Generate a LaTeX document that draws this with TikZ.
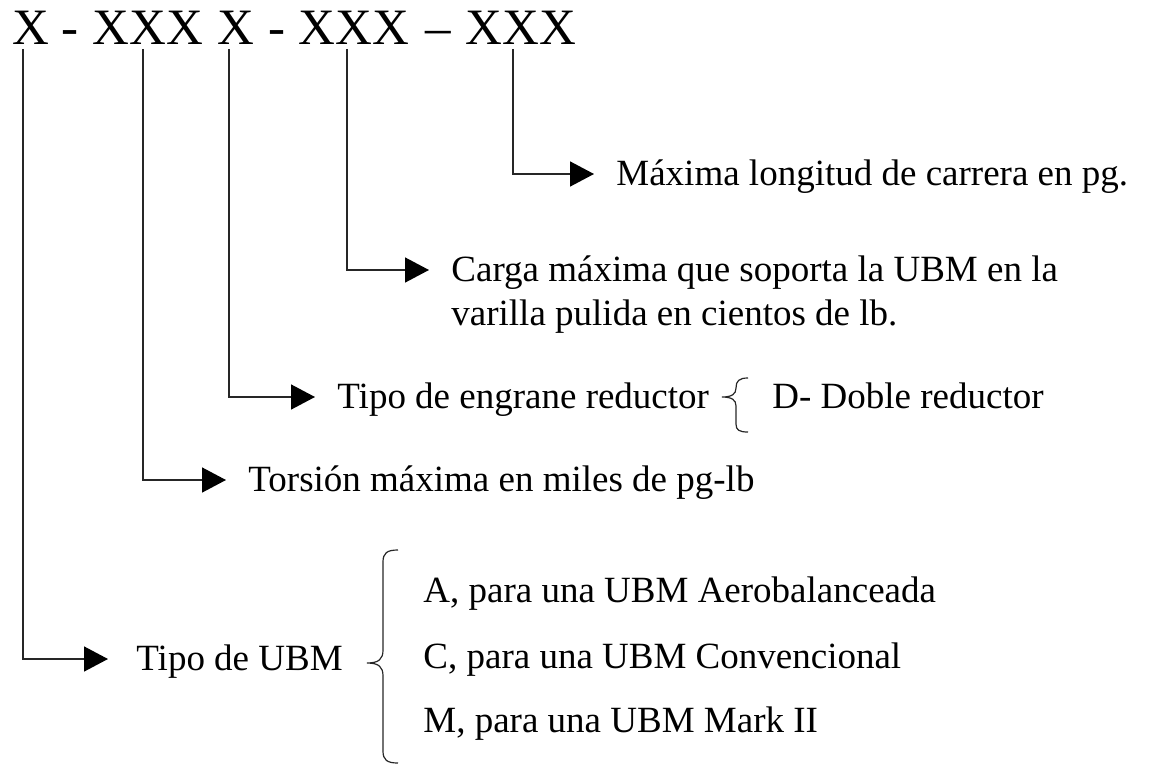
\documentclass[tikz,border=0pt]{standalone}
\usepackage{fontspec}
\setmainfont{Liberation Serif}
\usetikzlibrary{arrows.meta}

\begin{document}
\begin{tikzpicture}[
	x=0.5pt, y=-0.5pt,
	code/.style={
		anchor=base west,
		inner sep=0pt,
		font=\fontsize{25.5}{30}\selectfont
		},
	desc/.style={
		anchor=base west,
		inner xsep=11pt,
		inner ysep=0pt,
		font=\fontsize{18.5}{22.5}\selectfont
		},
	item/.style={
		anchor=base west,
		inner sep=0pt,
		font=\fontsize{18.5}{22.5}\selectfont
		},
	link/.style={
		draw=black!85,
		line width=0.75pt,
		-{Triangle[length=12pt,width=12.5pt,color=black]}
		},
	brace/.style={
		draw=black!85,
		line width=0.6pt
		}
]
\useasboundingbox (0,0) rectangle (1166,765);

% Code
\node [code] (codeA) at (12,45) {X};
\node [code] (dashA) at (61,45) {-};
\node [code] (codeB) at (92,45) {XXX};
\node [code] (codeC) at (217,45) {X};
\node [code] (dashB) at (268,45) {-};
\node [code] (codeD) at (298,45) {XXX};
\node [code] (dashC) at (425,45) {--};
\node [code] (codeE) at (465,45) {XXX};

% Stems under the code
\coordinate (stemA) at (23,49);
\coordinate (stemB) at (143,49);
\coordinate (stemC) at (229,49);
\coordinate (stemD) at (347,49);
\coordinate (stemE) at (513,49);

% Descriptions
\node [desc] (carrera) at (594,185) {Máxima longitud de carrera en pg.};
\node [desc] (carga) at (429,281) {Carga máxima que soporta la UBM en la};
\node [desc] (varilla) at (429,325) {varilla pulida en cientos de lb.};
\node [desc] (engrane) at (315,408) {Tipo de engrane reductor};
\node [item] (doble) at (772,408) {D- Doble reductor};
\node [desc] (torsion) at (226,491) {Torsión máxima en miles de pg-lb};
\node [desc, inner xsep=14pt] (tipo) at (108,670) {Tipo de UBM};
\node [item] (aero) at (423,602) {A, para una UBM Aerobalanceada};
\node [item] (conv) at (423,668) {C, para una UBM Convencional};
\node [item] (mark) at (423,732) {M, para una UBM Mark II};

% Links
\draw [link] (stemE) |- ([yshift=5.5pt]carrera.base west);
\draw [link] (stemD) |- ([yshift=5.5pt]carga.base west);
\draw [link] (stemC) |- ([yshift=5.5pt]engrane.base west);
\draw [link] (stemB) |- ([yshift=5.5pt]torsion.base west);
\draw [link] (stemA) |- ([yshift=5.5pt]tipo.base west);

% Braces
\draw [brace] (748,378) .. controls (739,378) and (736,381) .. (736,388)
	.. controls (736,394) and (732,397) .. (722,397)
	.. controls (732,397) and (736,400) .. (736,406) -- (736,424)
	.. controls (736,430) and (739,432) .. (748,432);
\draw [brace] (398,550) .. controls (387,550) and (383,553) .. (383,562) -- (383,650)
	.. controls (383,659) and (379,663) .. (367,663)
	.. controls (379,663) and (383,667) .. (383,676) -- (383,751)
	.. controls (383,760) and (387,763) .. (398,763);

\end{tikzpicture}
\end{document}
